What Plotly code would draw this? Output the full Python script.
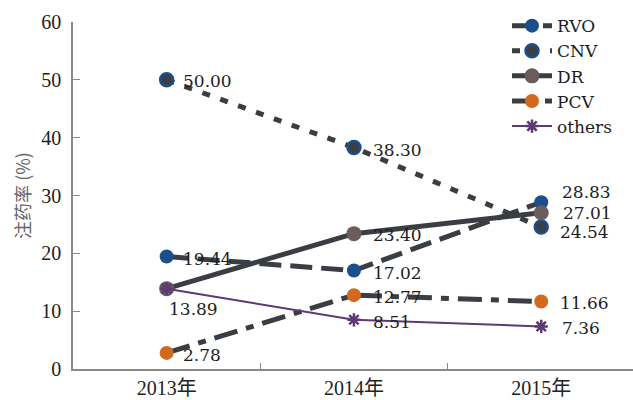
import plotly.graph_objects as go

# Injection rate by disease type, 2013-2015
years = ["2013年", "2014年", "2015年"]
rvo = [19.44, 17.02, 28.83]
cnv = [50.00, 38.30, 24.54]
dr = [13.89, 23.40, 27.01]
pcv = [2.78, 12.77, 11.66]
others = [13.89, 8.51, 7.36]

y_ticks = [0, 10, 20, 30, 40, 50, 60]

LINE_DARK = "#3a3d42"
BLUE = "#1b4f8a"
LABEL_FONT = "DejaVu Serif, Liberation Serif, serif"
SERIF = "Liberation Serif, DejaVu Serif, Noto Sans CJK SC, serif"

series = [
    dict(name="RVO", y=rvo, line=dict(color=LINE_DARK, width=5, dash="22px,9px"),
         marker=dict(symbol="circle", size=14, color=BLUE, line=dict(width=0))),
    dict(name="CNV", y=cnv, line=dict(color=LINE_DARK, width=5, dash="8px,11px"),
         marker=dict(symbol="circle", size=13, color="#3b3f45",
                     line=dict(color=BLUE, width=2.5))),
    dict(name="DR", y=dr, line=dict(color=LINE_DARK, width=5),
         marker=dict(symbol="circle", size=15, color="#6b5d5b", line=dict(width=0))),
    dict(name="PCV", y=pcv, line=dict(color=LINE_DARK, width=5, dash="24px,9px,8px,9px"),
         marker=dict(symbol="circle", size=14, color="#d2691f", line=dict(width=0))),
    dict(name="others", y=others, line=dict(color="#5b3a76", width=2),
         marker=dict(symbol="asterisk-open", size=11, color="#5b3a76",
                     line=dict(color="#5b3a76", width=2.5))),
]

fig = go.Figure()
for s in series:
    fig.add_trace(go.Scatter(x=years, y=s["y"], name=s["name"], mode="lines+markers",
                             line=s["line"], marker=s["marker"], cliponaxis=False))

# value labels: (series values, point index, x shift, y shift)
label_specs = [
    (cnv, 0, 15, -1), (cnv, 1, 18, -2), (cnv, 2, 18, -5),
    (rvo, 0, 15, -2), (rvo, 1, 18, -2), (rvo, 2, 20, 10),
    (dr, 0, 1, -20), (dr, 1, 18, -1), (dr, 2, 21, 0),
    (pcv, 0, 15, -2), (pcv, 1, 18, -2), (pcv, 2, 18, -1),
    (others, 1, 18, -2), (others, 2, 20, -2),
]
for vals, i, dx, dy in label_specs:
    fig.add_annotation(x=years[i], y=vals[i], text=f"{vals[i]:.2f}", showarrow=False,
                       xanchor="left", yanchor="middle", xshift=dx, yshift=dy,
                       borderpad=0,
                       font=dict(family=LABEL_FONT, size=17, color="#1e1e1e"))

fig.update_layout(
    width=633, height=400,
    margin=dict(l=73, r=0, t=22, b=31),
    paper_bgcolor="white", plot_bgcolor="white",
    showlegend=True,
    legend=dict(x=0.775, y=1.04, xanchor="left", yanchor="top",
                font=dict(family=LABEL_FONT, size=17, color="#1e1e1e"),
                bgcolor="rgba(0,0,0,0)", tracegroupgap=0, itemwidth=40),
    xaxis=dict(type="category", range=[-0.5, 2.49], tickson="boundaries",
               ticks="inside", ticklen=6, tickcolor="#888", showline=True,
               linecolor="#888", linewidth=1.5, showgrid=False, zeroline=False,
               ticklabelstandoff=0, automargin=False,
               tickfont=dict(family=SERIF, size=20, color="#222")),
    yaxis=dict(range=[0, 60], tickvals=y_ticks, ticks="inside", ticklen=7,
               tickcolor="#888", showline=True, linecolor="#888", linewidth=1.5,
               showgrid=False, zeroline=False, ticklabelstandoff=6, automargin=False,
               tickfont=dict(family=SERIF, size=20, color="#222"),
               title=dict(text="注药率 (%)", standoff=6,
                          font=dict(family="Noto Sans CJK SC, sans-serif", size=18,
                                    color="#666"))),
)

fig.write_html("out.html")
